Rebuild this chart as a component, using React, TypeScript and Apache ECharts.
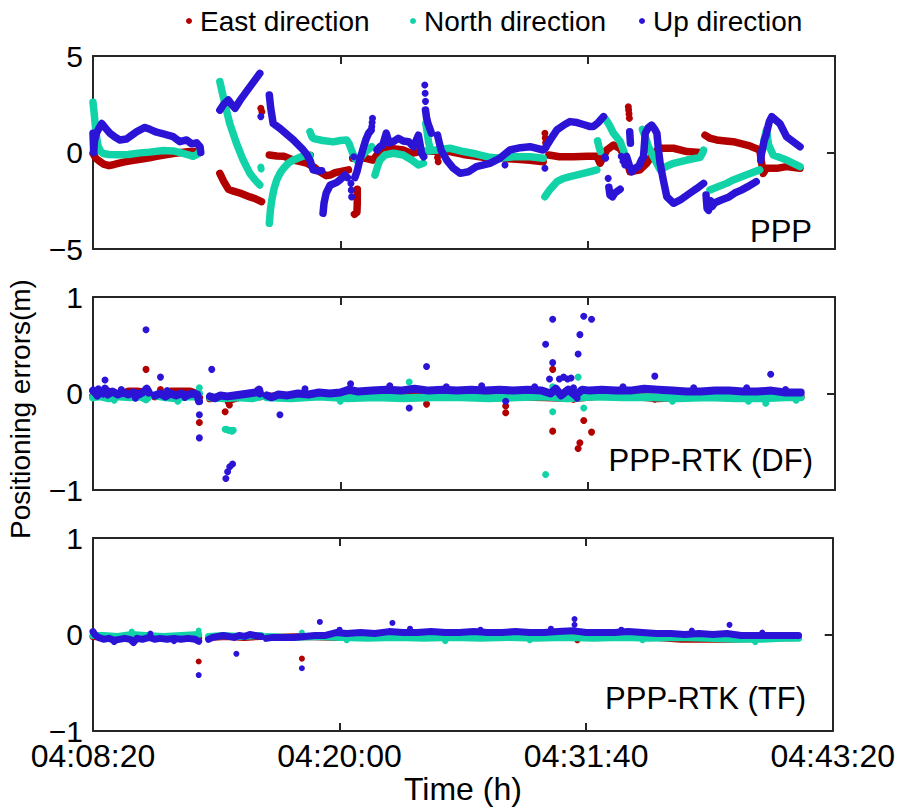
import React, { useEffect, useRef } from "react";
import * as echarts from "echarts";

// ---------- data (time in seconds after 04:08:20, errors in metres) ----------
const START_SECONDS = 4 * 3600 + 8 * 60 + 20;
const xTickValues = [0, 700, 1400, 2100];
const legendNames = ["East direction", "North direction", "Up direction"];
const panelNames = ["PPP", "PPP-RTK (DF)", "PPP-RTK (TF)"];
const yLimits = [
  [-5, 5, 5],
  [-1, 1, 1],
  [-1, 1, 1],
];

type P = [number, number] | null;

// ---- PPP (panel 1) ----
const pppEast: P[] = [
  [0, -0.05], [8, -0.3], [18, -0.45], [30, -0.6], [45, -0.68], [60, -0.62], [86, -0.5], [110, -0.42], [133, -0.35], [160, -0.27], [180, -0.2], [205, -0.12], [227, -0.05], [250, 0.0], [275, 0.05], [295, 0.05], [303, 0.0],
  null,
  [359, -1.08], [370, -1.5], [383, -1.9], [400, -2.02], [416, -2.1], [430, -2.2], [444, -2.3], [460, -2.4], [477, -2.55],
  null,
  [499, -0.13], [520, -0.18], [540, -0.2], [567, -0.39], [590, -0.48], [605, -0.55], [625, -0.75], [642, -1.0], [660, -1.2], [671, -1.17], [685, -1.05], [699, -0.99], [723, -0.9],
  null,
  [748, -1.9], [748, -2.6], [747, -3.1], [740, -3.2],
  null,
  [735, -0.3], [755, -0.28], [772, -0.3], [792, -0.4], [805, -0.1], [818, 0.13], [850, 0.2], [878, 0.13], [902, -0.05], [925, 0.05], [940, 0.05], [972, 0.08], [1010, 0.05], [1048, -0.1], [1085, -0.2], [1123, -0.3], [1151, -0.3], [1199, -0.35], [1237, -0.4], [1274, -0.48],
  null,
  [1290, -0.13], [1320, -0.22], [1360, -0.22], [1400, -0.2], [1426, -0.2], [1435, -0.56], [1445, -0.2], [1454, 0.13], [1473, 0.39], [1492, 0.2], [1510, -0.39], [1520, -1.0], [1548, -0.9], [1567, -0.56], [1586, -0.04], [1605, 0.22], [1643, 0.22], [1681, 0.05], [1718, 0.0],
  null,
  [1732, 0.9], [1745, 0.75], [1765, 0.65], [1790, 0.6], [1812, 0.56], [1859, 0.34], [1887, 0.13], [1892, -0.5], [1897, -1.08], [1906, -0.82], [1935, -0.82], [1963, -0.73], [2001, -0.82],
];
const pppNorth: P[] = [
  [0, 2.6], [3, 2.1], [6, 1.5], [10, 0.8], [15, 0.3], [22, 0.05], [29, -0.05], [45, -0.1], [70, -0.12], [100, -0.1], [133, -0.02], [160, 0.02], [199, 0.1], [227, 0.08], [255, -0.05], [270, -0.12], [283, -0.2], [295, -0.1], [303, 0.1],
  null,
  [359, 3.67], [366, 3.1], [373, 2.55], [387, 1.5], [406, 0.48], [425, -0.39], [444, -1.08], [460, -1.45], [472, -1.68],
  null,
  [499, -3.67], [502, -3.0], [506, -2.46], [512, -1.9], [520, -1.42], [530, -1.05], [539, -0.82], [553, -0.55], [567, -0.39], [595, -0.18], [614, -0.15],
  null,
  [614, 1.08], [620, 0.8], [625, 0.72], [650, 0.62], [680, 0.55], [700, 0.62], [718, 0.65], [725, 0.45], [732, 0.1], [741, -0.3], [752, -0.5], [760, -0.2], [775, 0.1], [789, 0.3],
  null,
  [798, -1.17], [805, -0.75], [812, -0.39], [826, -0.13], [850, -0.04], [878, -0.13], [902, -0.39], [921, -0.65], [935, -0.56],
  null,
  [942, 1.5], [946, 1.0], [950, 0.5], [953, 0.3],
  null,
  [935, 0.05], [972, 0.13], [1010, 0.22], [1048, 0.05], [1085, -0.08], [1123, -0.25], [1151, -0.3], [1190, -0.22], [1237, -0.22], [1274, -0.3],
  null,
  [1279, -2.29], [1294, -1.9], [1313, -1.51], [1330, -1.35], [1350, -1.25], [1388, -1.08], [1416, -0.95], [1426, -0.9],
  null,
  [1428, 0.6], [1432, 0.3], [1436, 0.05],
  null,
  [1452, 1.7], [1462, 1.4], [1473, 1.0], [1492, 0.56], [1501, 0.13], [1510, -0.39],
  null,
  [1555, 1.2], [1565, 0.7], [1572, 0.3], [1586, -0.22], [1605, -0.9], [1625, -0.7], [1643, -0.56], [1681, -0.39], [1718, -0.25], [1726, 0.0], [1728, 0.13],
  null,
  [1746, -1.94], [1765, -1.8], [1793, -1.6], [1812, -1.42], [1850, -1.15], [1887, -0.9],
  null,
  [1895, 0.13], [1900, 0.7], [1906, 1.17], [1912, 0.4], [1925, -0.13], [1963, -0.39], [2001, -0.73],
];
const pppUp: P[] = [
  [0, 1.0], [1, 0.5], [2, 0.0], [4, 0.6], [10, 1.0], [18, 1.3], [25, 1.5], [36, 1.25], [48, 1.0], [62, 0.8], [76, 0.65], [95, 0.7], [110, 0.9], [124, 1.08], [147, 1.3], [161, 1.2], [180, 1.05], [199, 0.96], [227, 0.82], [246, 0.56], [265, 0.65], [279, 0.45], [293, 0.5], [303, 0.3], [305, 0.0],
  null,
  [359, 2.2], [370, 2.5], [383, 2.72], [392, 2.5], [402, 2.29], [416, 2.7], [430, 3.05], [444, 3.4], [458, 3.75], [472, 4.1],
  null,
  [499, 2.98], [503, 2.3], [510, 1.5], [529, 1.25], [548, 0.95], [567, 0.65], [595, 0.13], [605, -0.1], [614, -0.39], [623, -0.9], [635, -0.95], [647, -0.95],
  null,
  [651, -3.15], [654, -2.6], [660, -2.1], [671, -1.7], [690, -1.55], [700, -1.4], [713, -1.17], [720, -1.3],
  null,
  [741, -1.3], [747, -1.0], [755, -0.4], [766, 0.3], [773, 0.7], [780, 1.0], [787, 1.15],
  null,
  [804, 0.13], [812, 0.3], [820, 0.39], [830, 1.0], [838, 0.5], [850, 0.56], [864, 0.74], [878, 0.6], [893, 0.56], [907, 0.3], [921, 0.9], [930, -0.04], [936, -0.22],
  null,
  [941, 2.2], [944, 1.8], [948, 1.5], [953, 1.25], [958, 1.0],
  null,
  [975, 0.9], [977, 0.74], [985, 0.13], [1001, -0.39], [1020, -0.82], [1039, -1.08], [1062, -1.0], [1085, -0.73], [1123, -0.56], [1151, -0.3], [1180, 0.13], [1210, 0.25], [1237, 0.3], [1274, 0.13], [1279, 0.2], [1294, 0.65], [1313, 1.17], [1335, 1.45], [1350, 1.6], [1370, 1.55], [1388, 1.45], [1405, 1.35], [1416, 1.35], [1430, 1.55], [1445, 1.86],
  null,
  [1460, -1.8], [1463, -2.2], [1470, -2.3], [1477, -2.1], [1492, -1.9],
  null,
  [1519, 1.08], [1521, 0.48],
  null,
  [1510, -0.2], [1515, -0.5], [1520, -0.8], [1525, -1.0], [1535, -0.8], [1545, -0.7], [1552, -0.4], [1558, -0.22], [1563, 1.0], [1572, 1.3], [1581, 1.42], [1590, 1.2], [1596, 1.0], [1600, 0.2], [1605, -0.56], [1614, -1.42], [1624, -2.29], [1643, -2.63], [1662, -2.46], [1690, -2.1], [1710, -1.85], [1728, -1.6],
  null,
  [1735, -2.2], [1738, -2.9], [1742, -3.0], [1748, -2.5], [1752, -2.8], [1760, -2.6], [1778, -2.46], [1800, -2.3], [1816, -2.1], [1835, -1.95], [1853, -1.77], [1877, -1.51],
  null,
  [1890, -0.4], [1892, -0.04], [1896, 0.3], [1900, 0.65], [1905, 0.9], [1910, 1.3], [1914, 1.6], [1921, 1.86], [1944, 1.5], [1963, 0.82], [1982, 0.56], [2001, 0.3],
];
const pppEastDots = [[475, 2.29], [478, 2.11], [616, -0.13], [975, -0.26], [977, -0.48], [1279, 1.0], [1280, 0.75], [1281, 0.5], [1282, 0.25], [1515, 2.37], [1516, 2.2], [1517, 2.0], [1518, 1.77]];
const pppNorthDots = [[475, -0.75], [476, -0.85]];
const pppUpDots = [[475, 1.86], [730, -1.6], [731, -1.95], [732, -2.3], [738, -0.22], [789, 1.34], [790, 1.55], [791, 1.77], [939, 3.5], [940, 3.07], [941, 2.65], [1166, -0.65], [1279, -0.82], [1449, -0.22], [1451, -0.3], [1458, -1.34], [1495, -0.2], [1500, -0.45], [1505, -0.65]];

// ---- PPP-RTK (DF) (panel 2) ----
const dfEast: P[] = [
  [0, -0.03], [25, -0.02], [45, 0.02], [70, -0.02], [100, 0.02], [125, 0.02], [145, 0.01], [158, -0.02],
  null,
  [175, -0.03], [200, -0.02], [220, 0.02], [250, 0.02], [275, 0.02], [292, 0.0], [300, -0.04],
  null,
  [331, -0.05], [360, -0.04], [390, -0.06], [420, -0.03], [450, -0.02], [473, -0.03],
  null,
  [492, -0.03], [580, -0.03], [680, -0.02], [780, -0.03], [880, -0.04], [980, -0.02], [1080, -0.03], [1180, -0.03], [1280, -0.04], [1360, -0.05], [1440, -0.02], [1540, -0.03], [1600, -0.05], [1700, -0.03], [1800, -0.04], [1900, -0.03], [2003, -0.03],
];
const dfNorth: P[] = [
  [0, -0.04], [20, -0.03], [45, -0.05], [75, -0.03], [105, -0.04], [135, -0.03], [150, -0.06], [158, -0.03],
  null,
  [175, -0.02], [205, -0.04], [235, -0.05], [265, -0.03], [295, -0.03], [300, 0.0],
  null,
  [331, -0.04], [370, -0.05], [410, -0.04], [450, -0.05], [473, -0.03],
  null,
  [492, -0.04], [560, -0.05], [640, -0.03], [720, -0.05], [800, -0.04], [880, -0.05], [960, -0.04], [1040, -0.04], [1120, -0.05], [1200, -0.04], [1280, -0.03], [1340, -0.05], [1420, -0.03], [1500, -0.04], [1580, -0.04], [1660, -0.05], [1740, -0.04], [1820, -0.05], [1900, -0.05], [1960, -0.04], [2003, -0.04],
];
const dfUp: P[] = [
  [0, 0.03], [6, 0.01], [12, -0.02], [20, 0.02], [28, 0.0], [34, 0.05], [42, -0.01], [55, 0.02], [70, -0.01], [85, 0.01], [100, -0.01], [115, 0.01], [130, -0.01], [145, 0.02], [152, 0.05], [158, 0.01],
  null,
  [175, -0.02], [190, 0.0], [205, -0.03], [220, 0.0], [235, -0.02], [250, 0.0], [265, -0.02], [280, 0.0], [295, -0.01], [300, -0.08],
  null,
  [331, -0.03], [345, -0.05], [360, -0.02], [380, -0.03], [400, -0.02], [420, -0.01], [440, 0.0], [460, 0.01], [470, 0.04], [473, 0.0],
  null,
  [492, -0.02], [505, -0.04], [525, -0.01], [550, -0.02], [580, 0.0], [610, -0.01], [640, 0.01], [670, 0.0], [700, 0.01], [725, 0.04], [750, 0.02], [790, 0.03], [830, 0.04], [870, 0.03], [910, 0.05], [950, 0.03], [990, 0.04], [1030, 0.03], [1070, 0.04], [1110, 0.03], [1150, 0.04], [1190, 0.03], [1230, 0.04], [1270, 0.03], [1295, 0.0], [1310, 0.05], [1325, -0.02], [1345, 0.04], [1365, -0.02], [1385, 0.04], [1405, 0.03], [1440, 0.04], [1480, 0.03], [1520, 0.03], [1560, 0.05], [1600, 0.04], [1640, 0.03], [1680, 0.02], [1720, 0.02], [1760, 0.03], [1800, 0.03], [1840, 0.02], [1880, 0.02], [1920, 0.03], [1960, 0.01], [2003, 0.01],
];
const dfEastDots = [[150, 0.25], [191, 0.04], [301, -0.3], [374, -0.19], [383, -0.09], [386, -0.12], [944, -0.11], [1168, -0.13], [1168, -0.2], [1301, 0.25], [1301, -0.39], [1373, -0.57], [1378, -0.51], [1389, -0.28], [1411, -0.4], [1590, -0.06], [1330, -0.05], [1360, -0.06]];
const dfNorthDots = [[301, 0.06], [374, -0.37], [378, -0.37], [383, -0.38], [388, -0.38], [393, -0.39], [397, -0.38], [895, 0.12], [1281, -0.84], [1301, 0.07], [1301, -0.19], [1373, 0.17], [1389, -0.15], [1855, -0.08], [1904, -0.1], [1350, -0.05], [60, -0.07], [240, -0.08], [700, -0.08], [1640, -0.08], [1990, -0.07]];
const dfUpDots = [[34, 0.14], [150, 0.66], [191, 0.17], [301, -0.22], [301, -0.46], [336, 0.25], [395, -0.73], [387, -0.76], [381, -0.81], [376, -0.88], [529, -0.22], [729, 0.1], [895, -0.15], [944, 0.28], [1168, -0.08], [1281, 0.51], [1292, 0.15], [1301, 0.77], [1301, 0.32], [1320, 0.15], [1332, 0.17], [1343, 0.15], [1353, 0.16], [1360, 0.06], [1373, 0.41], [1378, 0.61], [1389, 0.8], [1411, 0.77], [1370, -0.05], [1590, 0.18], [1918, 0.2], [15, 0.05], [80, 0.04], [120, -0.05], [210, 0.03], [260, -0.04], [600, 0.05], [840, 0.08], [1000, 0.07], [1100, 0.08], [1250, 0.07], [1500, 0.07], [1700, 0.06], [1850, 0.06], [1960, 0.04]];

// ---- PPP-RTK (TF) (panel 3) ----
const tfEast: P[] = [
  [0, -0.02], [40, -0.03], [90, -0.02], [140, -0.03], [190, -0.02], [240, -0.03], [300, -0.03],
  null,
  [328, -0.03], [380, -0.02], [430, -0.03], [477, -0.02],
  null,
  [492, -0.03], [600, -0.02], [700, -0.03], [800, -0.02], [900, -0.03], [1000, -0.02], [1100, -0.03], [1200, -0.03], [1300, -0.03], [1400, -0.03], [1500, -0.02], [1600, -0.03], [1670, -0.05], [1740, -0.05], [1810, -0.05], [1900, -0.04], [2003, -0.03],
];
const tfNorth: P[] = [
  [0, -0.01], [30, -0.01], [70, -0.02], [110, 0.0], [150, -0.01], [200, -0.02], [250, -0.01], [300, 0.0],
  null,
  [328, -0.02], [370, -0.01], [420, -0.02], [477, -0.01],
  null,
  [492, -0.02], [560, -0.03], [640, -0.02], [700, -0.03], [780, -0.04], [860, -0.03], [940, -0.04], [1020, -0.03], [1100, -0.04], [1180, -0.03], [1260, -0.04], [1340, -0.03], [1420, -0.04], [1500, -0.03], [1580, -0.04], [1660, -0.03], [1740, -0.04], [1820, -0.05], [1900, -0.05], [1960, -0.04], [2003, -0.04],
];
const tfUp: P[] = [
  [0, 0.03], [5, 0.0], [15, -0.03], [30, -0.05], [45, -0.04], [60, -0.06], [75, -0.05], [90, -0.04], [105, -0.05], [115, -0.08], [125, -0.04], [140, -0.05], [160, -0.03], [175, -0.05], [190, -0.04], [210, -0.05], [230, -0.04], [250, -0.05], [270, -0.04], [290, -0.05], [300, -0.07],
  null,
  [328, -0.05], [340, -0.03], [355, -0.02], [370, -0.01], [385, -0.02], [400, -0.03], [415, -0.01], [430, -0.02], [445, 0.0], [460, -0.01], [477, -0.02],
  null,
  [492, -0.04], [510, -0.03], [540, -0.03], [570, -0.03], [600, -0.02], [630, -0.01], [660, -0.01], [690, 0.02], [720, 0.01], [760, 0.02], [800, 0.01], [840, 0.03], [880, 0.02], [920, 0.02], [960, 0.03], [1000, 0.02], [1040, 0.02], [1080, 0.03], [1120, 0.02], [1160, 0.02], [1200, 0.03], [1240, 0.02], [1280, 0.02], [1320, 0.03], [1360, 0.04], [1400, 0.02], [1440, 0.02], [1480, 0.02], [1520, 0.03], [1560, 0.02], [1600, 0.01], [1640, 0.01], [1680, 0.0], [1720, 0.01], [1760, 0.0], [1800, 0.01], [1840, -0.01], [1880, -0.01], [1920, -0.01], [1960, -0.01], [2003, -0.01],
];
const tfEastDots = [[300, -0.28], [593, -0.25], [1375, -0.06]];
const tfNorthDots = [[300, 0.04], [593, 0.02], [110, 0.03], [720, -0.06], [1000, -0.07], [1240, -0.06], [1560, -0.06], [1880, -0.08]];
const tfUpDots = [[115, -0.09], [163, 0.01], [300, -0.42], [407, -0.2], [593, -0.35], [644, 0.13], [850, 0.12], [1367, 0.16], [1367, 0.1], [1807, 0.1], [60, -0.08], [230, -0.07], [700, 0.05], [900, 0.06], [1100, 0.05], [1300, 0.06], [1500, 0.05], [1700, 0.04], [1900, 0.02]];

// ---------- styling ----------
const COLORS = ["#B20000", "#12D3A8", "#2B14D6"];
const AXIS_COLOR = "#262626";
const FONT = "'Liberation Sans', Arial, Helvetica, sans-serif";
const GRID_TOPS = [56, 297, 538];
const GRID_H = 193;
const GRID_LEFT = 93;
const GRID_RIGHT = 63;

const fmtTime = (v: number) => {
  const s = START_SECONDS + Math.round(v);
  const h = Math.floor(s / 3600);
  const m = Math.floor((s % 3600) / 60);
  const sec = s % 60;
  return [h, m, sec].map((n) => String(n).padStart(2, "0")).join(":");
};
const fmtY = (v: number) => String(v).replace("-", "\u2212");
const toData = (arr: P[]) => arr.map((p) => (p === null ? ["-", "-"] : p));

export default function App() {
  const ref = useRef<HTMLDivElement>(null);
  useEffect(() => {
    if (!ref.current) return;
    const chart = echarts.init(ref.current, undefined, { renderer: "svg" });

    const lines = [
      [pppEast, pppNorth, pppUp],
      [dfEast, dfNorth, dfUp],
      [tfEast, tfNorth, tfUp],
    ];
    const dots = [
      [pppEastDots, pppNorthDots, pppUpDots],
      [dfEastDots, dfNorthDots, dfUpDots],
      [tfEastDots, tfNorthDots, tfUpDots],
    ];
    const lineWidths = [7.5, 8, 7];
    const dotSizes = [7, 7, 6];

    const grids = GRID_TOPS.map((top) => ({ left: GRID_LEFT, right: GRID_RIGHT, top, height: GRID_H }));
    const xAxes: any[] = [];
    const yAxes: any[] = [];
    const tickStyle = { show: true, inside: true, length: 8, lineStyle: { color: AXIS_COLOR, width: 2 } };
    const lineStyle = { show: true, onZero: false, lineStyle: { color: AXIS_COLOR, width: 2 } };
    for (let i = 0; i < 3; i++) {
      xAxes.push({
        type: "value", gridIndex: i, min: xTickValues[0], max: xTickValues[xTickValues.length - 1], interval: 700, position: "bottom",
        axisLine: lineStyle, axisTick: tickStyle, splitLine: { show: false },
        axisLabel: { show: i === 2, formatter: fmtTime, fontSize: 32, lineHeight: 24, fontFamily: FONT, color: "#000", margin: 13, showMinLabel: true, showMaxLabel: true, hideOverlap: false },
        name: i === 2 ? "Time (h)" : "", nameLocation: "middle", nameGap: 42,
        nameTextStyle: { fontSize: 32, fontFamily: FONT, color: "#000" },
      });
      xAxes.push({
        type: "value", gridIndex: i, min: 0, max: 2100, interval: 700, position: "top",
        axisLine: lineStyle, axisTick: tickStyle, splitLine: { show: false }, axisLabel: { show: false },
      });
      const [mn, mx, iv] = yLimits[i];
      yAxes.push({
        type: "value", gridIndex: i, min: mn, max: mx, interval: iv, position: "left",
        axisLine: lineStyle, axisTick: tickStyle, splitLine: { show: false },
        axisLabel: { formatter: fmtY, fontSize: 30, lineHeight: 22, fontFamily: FONT, color: "#000", margin: 10, showMinLabel: true, showMaxLabel: true },
      });
      yAxes.push({
        type: "value", gridIndex: i, min: mn, max: mx, interval: iv, position: "right",
        axisLine: lineStyle, axisTick: tickStyle, splitLine: { show: false }, axisLabel: { show: false },
      });
    }

    const series: any[] = [];
    for (let i = 0; i < 3; i++) {
      for (let k = 0; k < 3; k++) {
        series.push({
          type: "line", name: legendNames[k], xAxisIndex: i * 2, yAxisIndex: i * 2,
          data: toData(lines[i][k]), showSymbol: false, symbol: "none", connectNulls: false,
          lineStyle: { color: COLORS[k], width: lineWidths[i], cap: "round", join: "round" },
          itemStyle: { color: COLORS[k] }, z: 2 + k, silent: true,
        });
        series.push({
          type: "scatter", name: legendNames[k], xAxisIndex: i * 2, yAxisIndex: i * 2,
          data: dots[i][k], symbol: "circle", symbolSize: dotSizes[i],
          itemStyle: { color: COLORS[k], opacity: 1 }, z: 2 + k, silent: true,
        });
      }
    }

    const legendX = [189, 413, 642];
    const graphic: any[] = [];
    legendNames.forEach((n, k) => {
      graphic.push({ type: "circle", shape: { cx: legendX[k], cy: 21, r: 3 }, style: { fill: COLORS[k] } });
      graphic.push({
        type: "text", x: legendX[k] + 11, y: 21,
        style: { text: n, fontSize: 28, fontFamily: FONT, fill: "#000", align: "left", verticalAlign: "middle", textAlign: "left", textVerticalAlign: "middle" },
      });
    });
    const labelPos = [[812, 231], [813, 460], [806, 698]];
    panelNames.forEach((n, i) => {
      graphic.push({
        type: "text", x: labelPos[i][0], y: labelPos[i][1],
        style: { text: n, fontSize: 31, fontFamily: FONT, fill: "#000", align: "right", verticalAlign: "middle", textAlign: "right", textVerticalAlign: "middle" },
      });
    });
    graphic.push({
      type: "text", x: 20, y: 409, rotation: Math.PI / 2,
      style: { text: "Positioning errors(m)", fontSize: 28, fontFamily: FONT, fill: "#000", align: "center", verticalAlign: "middle", textAlign: "center", textVerticalAlign: "middle" },
    });

    chart.setOption({
      animation: false,
      backgroundColor: "#fff",
      grid: grids,
      xAxis: xAxes,
      yAxis: yAxes,
      series,
      graphic,
    });
    return () => chart.dispose();
  }, []);
  return <div ref={ref} style={{ position: "absolute", left: 0, top: 0, width: 898, height: 812, background: "#fff" }} />;
}
